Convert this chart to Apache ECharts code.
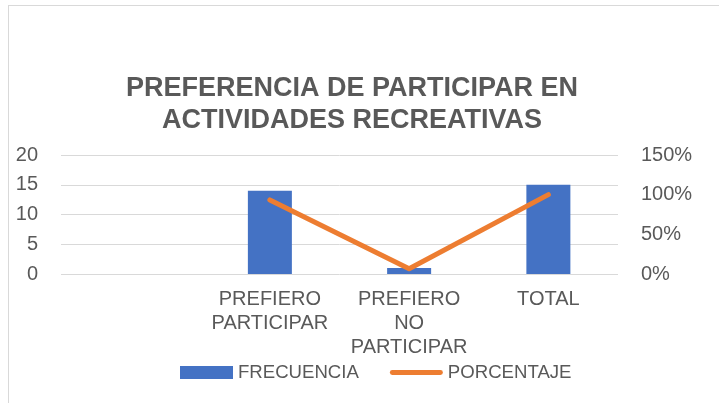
<!DOCTYPE html>
<html>
<head>
<meta charset="utf-8">
<script src="https://cdn.jsdelivr.net/npm/echarts@6/dist/echarts.min.js"></script>
<style>
    html, body { margin: 0; padding: 0; background: #fff; }
    #frame { position: absolute; left: 8px; top: 5px; width: 800px; height: 500px; border: 1px solid #d9d9d9; box-sizing: border-box; }
    #main { position: absolute; left: 0; top: 0; width: 719px; height: 403px; }
</style>
</head>
<body>
<div id="frame"></div>
<div id="main"></div>
<script>
    // datos
    var categorias = ['', 'PREFIERO PARTICIPAR', 'PREFIERO NO PARTICIPAR', 'TOTAL'];
    var frecuencia = [null, 14, 1, 15];
    var porcentaje = [null, 93.33, 6.67, 100];
    var ticksIzq = [0, 5, 10, 15, 20];
    var ticksDer = ['0%', '50%', '100%', '150%'];

    (function(){
        var fuente = 'Liberation Sans, Arial, sans-serif';
        var gris = '#595959';
        var option = {
            animation: false,
            title: {
                text: 'PREFERENCIA DE PARTICIPAR EN\nACTIVIDADES RECREATIVAS',
                left: 347,
                textAlign: 'center',
                top: 68,
                textStyle: {
                    fontFamily: fuente,
                    fontSize: 27,
                    fontWeight: 'bold',
                    color: gris,
                    lineHeight: 32
                }
            },
            legend: {
                top: 358,
                left: 175,
                itemGap: 31,
                itemWidth: 53,
                itemHeight: 13,
                textStyle: { fontFamily: fuente, fontSize: 18.6, color: gris },
                data: [
                    { name: 'FRECUENCIA', icon: 'rect' },
                    { name: 'PORCENTAJE', icon: 'path://M2.5,0 H52.5 A2.5,2.5 0 0 1 52.5,5 H2.5 A2.5,2.5 0 0 1 2.5,0 Z' }
                ]
            },
            grid: {
                left: 61,
                right: 101,
                top: 155,
                bottom: 129,
                containLabel: false
            },
            xAxis: {
                type: 'category',
                data: categorias,
                axisLine: { show: false },
                axisTick: { show: false },
                axisLabel: {
                    interval: 0,
                    margin: 13,
                    fontFamily: fuente,
                    fontSize: 20,
                    color: gris,
                    lineHeight: 24,
                    formatter: function (v) { return v.split(' ').join('\n'); }
                }
            },
            yAxis: [
                {
                    type: 'value',
                    min: ticksIzq[0],
                    max: ticksIzq[ticksIzq.length - 1],
                    interval: 5,
                    axisLine: { show: false },
                    axisTick: { show: false },
                    splitLine: { lineStyle: { color: '#d9d9d9', width: 1 } },
                    axisLabel: { margin: 23, fontFamily: fuente, fontSize: 20, color: gris }
                },
                {
                    type: 'value',
                    min: 0,
                    max: 150,
                    interval: 50,
                    axisLine: { show: false },
                    axisTick: { show: false },
                    splitLine: { show: false },
                    axisLabel: {
                        margin: 23,
                        fontFamily: fuente,
                        fontSize: 20,
                        color: gris,
                        formatter: function (v) { return ticksDer[Math.round(v / 50)]; }
                    }
                }
            ],
            series: [
                {
                    name: 'FRECUENCIA',
                    type: 'bar',
                    barWidth: 44,
                    itemStyle: { color: '#4472C4' },
                    data: frecuencia
                },
                {
                    name: 'PORCENTAJE',
                    type: 'line',
                    yAxisIndex: 1,
                    symbol: 'none',
                    z: 5,
                    lineStyle: { color: '#ED7D31', width: 5, cap: 'round', join: 'round' },
                    itemStyle: { color: '#ED7D31' },
                    data: porcentaje
                }
            ]
        };
        var myChart = echarts.init(document.getElementById('main'));
        myChart.setOption(option);
    })();
</script>
</body>
</html>
